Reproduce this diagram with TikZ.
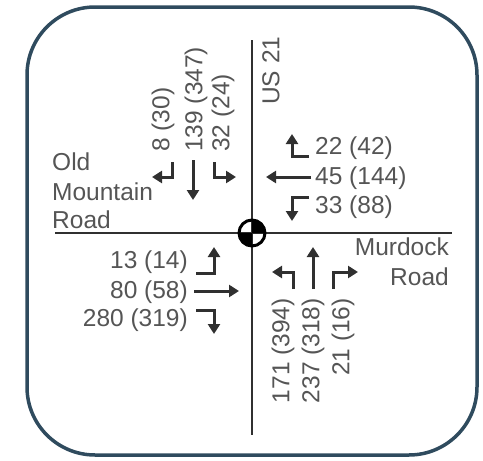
\documentclass[tikz,border=0pt]{standalone}
\usepackage{fontspec}
\setmainfont{Liberation Sans}
\usetikzlibrary{arrows.meta}
\definecolor{framecol}{HTML}{2F4B5E}
\definecolor{inkcol}{HTML}{303030}
\definecolor{txtcol}{HTML}{555555}
\begin{document}
\begin{tikzpicture}[x=1pt,y=-1pt,
  lbl/.style={inner sep=0pt,text=txtcol,font=\fontsize{24.5}{28}\selectfont},
  road/.style={draw=inkcol,line width=2.8pt},
  mv/.style={draw=inkcol,line width=3pt,-{Triangle[length=10pt,width=12pt]}}]
\useasboundingbox (0,0) rectangle (483,461);
% outer frame
\draw[framecol,line width=3.5pt,rounded corners=68pt] (27,7) rectangle (477,455);

% roads
\coordinate (nEnd) at (252,40);
\coordinate (sEnd) at (252,435);
\coordinate (wEnd) at (55,233);
\coordinate (eEnd) at (452,233);
\coordinate (ctr) at (252,233);
\draw[road] (nEnd) -- (sEnd);
\draw[road] (wEnd) -- (eEnd);

% centre marker
\fill[black] (ctr) -- ++(-13,0) arc[start angle=180,end angle=90,radius=13] -- cycle;
\fill[black] (ctr) -- ++(13,0) arc[start angle=0,end angle=-90,radius=13] -- cycle;
\draw[black,line width=3pt] (ctr) circle[radius=13];

% road names
\node[lbl,rotate=90,anchor=west] (us) at (271,105) {US 21};
\node[lbl,anchor=west] (old) at (52,162) {Old};
\node[lbl,anchor=west] (mtn) at (52,192) {Mountain};
\node[lbl,anchor=west] (rdw) at (52,220) {Road};
\node[lbl,anchor=east] (mur) at (449,247) {Murdock};
\node[lbl,anchor=east] (rde) at (449,277) {Road};

% southbound approach
\node[lbl,rotate=90,anchor=west] (sbl) at (163,152) {8 (30)};
\node[lbl,rotate=90,anchor=west] (sbt) at (196,152) {139 (347)};
\node[lbl,rotate=90,anchor=west] (sbr) at (223,152) {32 (24)};
\coordinate (sbl1) at (172,162); \coordinate (sbl2) at (172,177); \coordinate (sbl3) at (152,177);
\coordinate (sbt1) at (193,160); \coordinate (sbt2) at (193,200);
\coordinate (sbr1) at (214,162); \coordinate (sbr2) at (214,177); \coordinate (sbr3) at (236,177);
\draw[mv] (sbl1) -- (sbl2) -- (sbl3);
\draw[mv] (sbt1) -- (sbt2);
\draw[mv] (sbr1) -- (sbr2) -- (sbr3);

% westbound approach
\node[lbl,anchor=west] (wbl) at (315,148) {22 (42)};
\node[lbl,anchor=west] (wbt) at (315,178) {45 (144)};
\node[lbl,anchor=west] (wbr) at (315,207) {33 (88)};
\coordinate (wbl1) at (309,156); \coordinate (wbl2) at (292,156); \coordinate (wbl3) at (292,134);
\coordinate (wbt1) at (311,177); \coordinate (wbt2) at (266,177);
\coordinate (wbr1) at (309,197); \coordinate (wbr2) at (292,197); \coordinate (wbr3) at (292,221);
\draw[mv] (wbl1) -- (wbl2) -- (wbl3);
\draw[mv] (wbt1) -- (wbt2);
\draw[mv] (wbr1) -- (wbr2) -- (wbr3);

% eastbound approach
\node[lbl,anchor=east] (ebl) at (188,262) {13 (14)};
\node[lbl,anchor=east] (ebt) at (188,292) {80 (58)};
\node[lbl,anchor=east] (ebr) at (188,320) {280 (319)};
\coordinate (ebl1) at (196,273); \coordinate (ebl2) at (214,273); \coordinate (ebl3) at (214,247);
\coordinate (ebt1) at (194,291); \coordinate (ebt2) at (239,291);
\coordinate (ebr1) at (196,310); \coordinate (ebr2) at (214,310); \coordinate (ebr3) at (214,334);
\draw[mv] (ebl1) -- (ebl2) -- (ebl3);
\draw[mv] (ebt1) -- (ebt2);
\draw[mv] (ebr1) -- (ebr2) -- (ebr3);

% northbound approach
\node[lbl,rotate=90,anchor=east] (nbl) at (283,298) {171 (394)};
\node[lbl,rotate=90,anchor=east] (nbt) at (313,298) {237 (318)};
\node[lbl,rotate=90,anchor=east] (nbr) at (343,298) {21 (16)};
\coordinate (nbl1) at (293,289); \coordinate (nbl2) at (293,272); \coordinate (nbl3) at (272,272);
\coordinate (nbt1) at (313,289); \coordinate (nbt2) at (313,247);
\coordinate (nbr1) at (333,289); \coordinate (nbr2) at (333,272); \coordinate (nbr3) at (358,272);
\draw[mv] (nbl1) -- (nbl2) -- (nbl3);
\draw[mv] (nbt1) -- (nbt2);
\draw[mv] (nbr1) -- (nbr2) -- (nbr3);
\end{tikzpicture}
\end{document}
